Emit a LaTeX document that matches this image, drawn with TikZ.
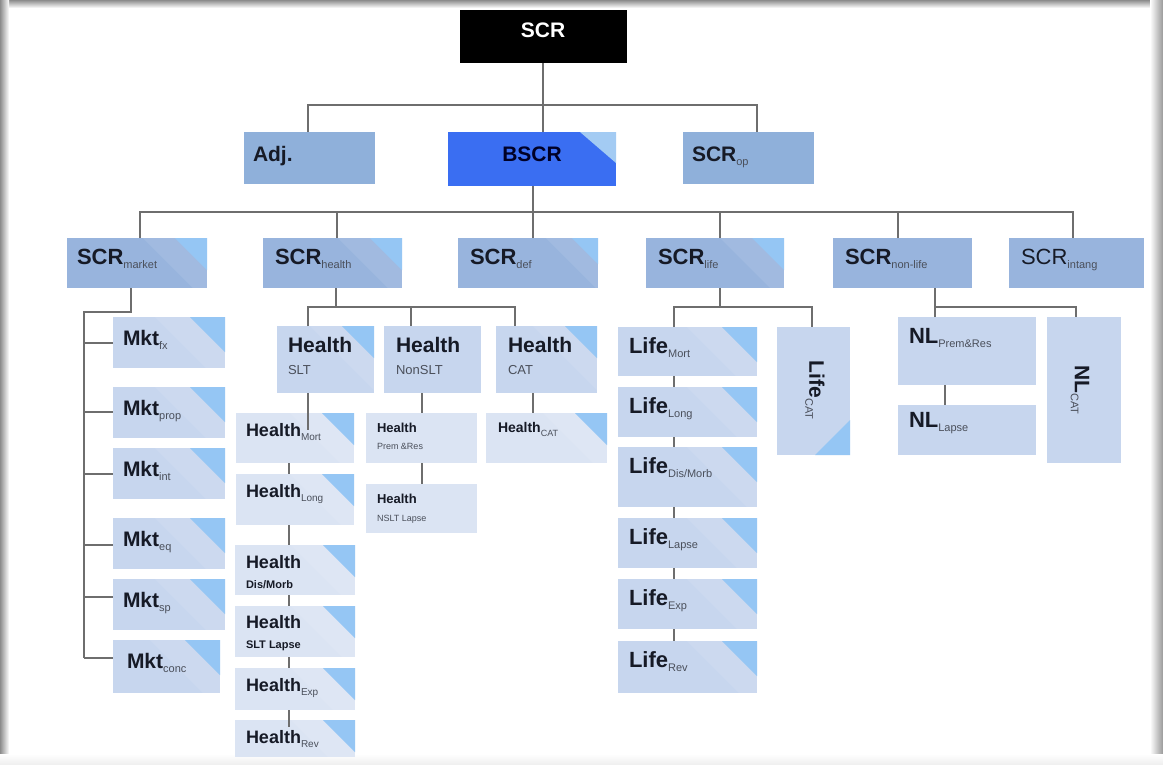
\documentclass[tikz,border=0pt]{standalone}
\usepackage{fontspec}
\setmainfont{Liberation Sans}
\usetikzlibrary{calc}
\definecolor{boxA}{HTML}{8FB0DA}
\definecolor{boxB}{HTML}{98B4DD}
\definecolor{boxC}{HTML}{C7D6EE}
\definecolor{boxD}{HTML}{DBE4F3}
\definecolor{tricol}{HTML}{95C6F4}
\definecolor{bscrcol}{HTML}{3A6EF2}
\definecolor{bscrtri}{HTML}{A3CBF3}
\definecolor{linec}{HTML}{6E6E6E}
\definecolor{txtc}{HTML}{161A26}
\definecolor{subc}{HTML}{4A4F5A}
\newcommand\fsz[1]{\fontsize{#1}{#1}\selectfont}
\newcommand\subl[2][11]{\raisebox{-4pt}{\fsz{#1}\mdseries\color{subc}#2}}
\newcommand\bx[6]{\node[#6, minimum width={(#4-#2)*1pt}, minimum height={(#5-#3)*1pt}] (#1) at (#2,#3) {};}
\tikzset{
  base/.style={draw=none, inner sep=0pt, outer sep=0pt, anchor=north west, rectangle},
  bA/.style={base, fill=boxA},
  bB/.style={base, fill=boxB},
  bC/.style={base, fill=boxC},
  bD/.style={base, fill=boxD},
  tri/.style={path picture={
      \fill[white, opacity=0.09] ([xshift={-2*#1pt}]path picture bounding box.north east) -- (path picture bounding box.north east) -- ([yshift={-2*#1pt}]path picture bounding box.north east) -- cycle;
      \fill[tricol] ([xshift={-#1pt}]path picture bounding box.north east) -- (path picture bounding box.north east) -- ([yshift={-#1pt}]path picture bounding box.north east) -- cycle;}},
  tribr/.style={path picture={
      \fill[tricol] ([xshift={-#1pt}]path picture bounding box.south east) -- (path picture bounding box.south east) -- ([yshift={#1pt}]path picture bounding box.south east) -- cycle;}},
  conn/.style={draw=linec, line width=1.3pt},
  t/.style={inner sep=0pt, outer sep=0pt, anchor=base west, text=txtc},
}
\begin{document}
\begin{tikzpicture}[x=1pt, y=-1pt]
\useasboundingbox (0,0) rectangle (1163,764);
\fill[white] (0,0) rectangle (1163,764);
\shade[top color=black!45, bottom color=white] (0,0) rectangle (1163,8);
\shade[left color=black!45, right color=white] (0,0) rectangle (9,764);
\shade[left color=white, right color=black!40] (1150,0) rectangle (1163,764);
\shade[top color=white, bottom color=black!6] (0,754) rectangle (1163,764);

% ---------- boxes ----------
\bx{scr}{460}{10}{627}{63}{base, fill=black}
\bx{adj}{244}{132}{375}{184}{bA}
\bx{bscr}{448}{132}{616}{186}{base, fill=bscrcol, path picture={\fill[bscrtri] ([xshift=-36pt]path picture bounding box.north east) -- (path picture bounding box.north east) -- ([yshift=-31pt]path picture bounding box.north east) -- cycle;}}
\bx{cp}{683}{132}{814}{184}{bA}

\bx{mkt}{67}{238}{207}{288}{bB, tri=32}
\bx{hea}{263}{238}{402}{288}{bB, tri=32}
\bx{def}{458}{238}{598}{288}{bB, tri=26}
\bx{life}{646}{238}{784}{288}{bB, tri=32}
\bx{nonl}{833}{238}{972}{288}{bB}
\bx{intang}{1009}{238}{1144}{288}{bB}

\bx{mfx}{113}{317}{225}{368}{bC, tri=35}
\bx{mprop}{113}{387}{225}{438}{bC, tri=35}
\bx{mint}{113}{448}{225}{499}{bC, tri=35}
\bx{meq}{113}{518}{225}{569}{bC, tri=35}
\bx{msp}{113}{579}{225}{630}{bC, tri=35}
\bx{mconc}{113}{640}{220}{693}{bC, tri=35}

\bx{hslt}{277}{326}{374}{393}{bC, tri=32}
\bx{hnslt}{384}{326}{481}{393}{bC}
\bx{hcat}{496}{326}{597}{393}{bC, tri=32}

\bx{hmort}{236}{413}{354}{463}{bD, tri=32}
\bx{hlong}{236}{474}{354}{525}{bD, tri=32}
\bx{hdis}{235}{545}{355}{595}{bD, tri=32}
\bx{hlapse}{235}{606}{355}{657}{bD, tri=32}
\bx{hexp}{235}{668}{355}{710}{bD, tri=32}
\bx{hrev}{235}{720}{355}{757}{bD, tri=32}
\bx{hprem}{366}{413}{477}{463}{bD}
\bx{hnlapse}{366}{484}{477}{533}{bD}
\bx{hcatsub}{486}{413}{607}{463}{bD, tri=32}

\bx{lmort}{618}{327}{757}{376}{bC, tri=35}
\bx{llong}{618}{387}{757}{437}{bC, tri=35}
\bx{ldis}{618}{447}{757}{507}{bC, tri=35}
\bx{llapse}{618}{518}{757}{568}{bC, tri=35}
\bx{lexp}{618}{579}{757}{629}{bC, tri=35}
\bx{lrev}{618}{641}{757}{693}{bC, tri=35}
\bx{lcat}{777}{327}{850}{455}{bC, tribr=35}

\bx{nlprem}{898}{317}{1036}{385}{bC}
\bx{nllapse}{898}{405}{1036}{455}{bC}
\bx{nlcat}{1047}{317}{1121}{463}{bC}

% ---------- connectors ----------
\coordinate (j1) at (543,105);
\coordinate (j2) at (533,212);
\draw[conn] (scr.south -| j1) -- (bscr.north -| j1);
\draw[conn] (adj.north -| 308,0) |- (j1) -| (cp.north -| 757,0);

\draw[conn] (bscr.south -| j2) -- (j2);
\draw[conn] (mkt.north -| 140,0) |- (j2) -| (intang.north -| 1073,0);
\draw[conn] (hea.north -| 337,0) -- (337,212);
\draw[conn] (def.north -| j2) -- (j2);
\draw[conn] (life.north -| 720,0) -- (720,212);
\draw[conn] (nonl.north -| 898,0) -- (898,212);

% market
\coordinate (mk) at (84,312);
\draw[conn] (mkt.south -| 131,0) |- (mk) -- (84,658);
\draw[conn] (84,343) -- (mfx.west |- 0,343);
\draw[conn] (84,412) -- (mprop.west |- 0,412);
\draw[conn] (84,474) -- (mint.west |- 0,474);
\draw[conn] (84,545) -- (meq.west |- 0,545);
\draw[conn] (84,597) -- (msp.west |- 0,597);
\draw[conn] (84,658) -- (mconc.west |- 0,658);

% health
\coordinate (hj) at (336,307);
\draw[conn] (hea.south -| hj) -- (hj);
\draw[conn] (hslt.north -| 308,0) |- (hj) -| (hcat.north -| 515,0);
\draw[conn] (hnslt.north -| 411,0) -- (411,307);
\draw[conn] (hcat.south -| 533,0) -- (hcatsub.north -| 533,0);
\draw[conn] (hnslt.south -| 422,0) -- (hprem.north -| 422,0);
\draw[conn] (hprem.south -| 422,0) -- (hnlapse.north -| 422,0);
\draw[conn] (hslt.south -| 308,0) -- (hmort.north -| 308,0) -- ++(0,17);
\draw[conn] (hmort.south -| 289,0) -- (hlong.north -| 289,0);
\draw[conn] (hlong.south -| 289,0) -- (hdis.north -| 289,0);
\draw[conn] (hdis.south -| 289,0) -- (hlapse.north -| 289,0);
\draw[conn] (hlapse.south -| 289,0) -- (hexp.north -| 289,0);
\draw[conn] (hexp.south -| 289,0) -- (hrev.north -| 289,0) -- ++(0,7);

% life
\coordinate (lj) at (720,307);
\draw[conn] (life.south -| lj) -- (lj);
\draw[conn] (lmort.north -| 674,0) |- (lj) -| (lcat.north -| 812,0);
\draw[conn] (lmort.south -| 674,0) -- (llong.north -| 674,0);
\draw[conn] (llong.south -| 674,0) -- (ldis.north -| 674,0);
\draw[conn] (ldis.south -| 674,0) -- (llapse.north -| 674,0);
\draw[conn] (llapse.south -| 674,0) -- (lexp.north -| 674,0);
\draw[conn] (lexp.south -| 674,0) -- (lrev.north -| 674,0);

% non-life
\coordinate (nj) at (935,307);
\draw[conn] (nonl.south -| nj) -- (nj);
\draw[conn] (nlprem.north -| nj) -- (nj) -| (nlcat.north -| 1076,0);
\draw[conn] (nlprem.south -| 945,0) -- (nllapse.north -| 945,0);

% ---------- texts ----------
\node[t, anchor=base, text=white] (scrt) at (543,37) {\fsz{21}\bfseries SCR};
\node[t] (adjt) at (253,161) {\fsz{21}\bfseries Adj.};
\node[t, anchor=base, text={black!85!blue}] (bscrt) at (532,161) {\fsz{21}\bfseries BSCR};
\node[t] (cpt) at (692,161) {\fsz{21}\bfseries SCR\subl{op}};

\node[t] (mktt) at (77,264) {\fsz{22}\bfseries SCR\subl{market}};
\node[t] (heat) at (275,264) {\fsz{22}\bfseries SCR\subl{health}};
\node[t] (deft) at (470,264) {\fsz{22}\bfseries SCR\subl{def}};
\node[t] (lifet) at (658,264) {\fsz{22}\bfseries SCR\subl{life}};
\node[t] (nonlt) at (845,264) {\fsz{22}\bfseries SCR\subl{non-life}};
\node[t] (intangt) at (1021,264) {\fsz{22}SCR\subl{intang}};

\node[t] (mfxt) at (123,345) {\fsz{21}\bfseries Mkt\subl{fx}};
\node[t] (mpropt) at (123,415) {\fsz{21}\bfseries Mkt\subl{prop}};
\node[t] (mintt) at (123,476) {\fsz{21}\bfseries Mkt\subl{int}};
\node[t] (meqt) at (123,546) {\fsz{21}\bfseries Mkt\subl{eq}};
\node[t] (mspt) at (123,607) {\fsz{21}\bfseries Mkt\subl{sp}};
\node[t] (mconct) at (127,668) {\fsz{21}\bfseries Mkt\subl{conc}};

\node[t] (hsltt) at (288,352) {\fsz{21}\bfseries Health};
\node[t, text=subc] (hsltt2) at (288,374) {\fsz{13}SLT};
\node[t] (hnsltt) at (396,352) {\fsz{21}\bfseries Health};
\node[t, text=subc] (hnsltt2) at (396,374) {\fsz{13}NonSLT};
\node[t] (hcatt) at (508,352) {\fsz{21}\bfseries Health};
\node[t, text=subc] (hcatt2) at (508,374) {\fsz{13}CAT};

\node[t] (hmortt) at (246,436) {\fsz{18}\bfseries Health\subl[10]{Mort}};
\node[t] (hlongt) at (246,497) {\fsz{18}\bfseries Health\subl[10]{Long}};
\node[t] (hdist) at (246,568) {\fsz{18}\bfseries Health};
\node[t] (hdist2) at (246,588) {\fsz{11}\bfseries Dis/Morb};
\node[t] (hlapset) at (246,628) {\fsz{18}\bfseries Health};
\node[t] (hlapset2) at (246,648) {\fsz{11}\bfseries SLT Lapse};
\node[t] (hexpt) at (246,691) {\fsz{18}\bfseries Health\subl[10]{Exp}};
\node[t] (hrevt) at (246,743) {\fsz{18}\bfseries Health\subl[10]{Rev}};
\node[t] (hpremt) at (377,432) {\fsz{13}\bfseries Health};
\node[t, text=subc] (hpremt2) at (377,449) {\fsz{9}Prem \&Res};
\node[t] (hnlapset) at (377,503) {\fsz{13}\bfseries Health};
\node[t, text=subc] (hnlapset2) at (377,521) {\fsz{9}NSLT Lapse};
\node[t] (hcatsubt) at (498,432) {\fsz{14}\bfseries Health\subl[9]{CAT}};

\node[t] (lmortt) at (629,353) {\fsz{22}\bfseries Life\subl{Mort}};
\node[t] (llongt) at (629,413) {\fsz{22}\bfseries Life\subl{Long}};
\node[t] (ldist) at (629,473) {\fsz{22}\bfseries Life\subl{Dis/Morb}};
\node[t] (llapset) at (629,544) {\fsz{22}\bfseries Life\subl{Lapse}};
\node[t] (lexpt) at (629,605) {\fsz{22}\bfseries Life\subl{Exp}};
\node[t] (lrevt) at (629,667) {\fsz{22}\bfseries Life\subl{Rev}};
\node[t, anchor=center, rotate=-90] (lcatt) at (815,390) {\fsz{21}\bfseries Life\subl{CAT}};

\node[t] (nlpremt) at (909,343) {\fsz{22}\bfseries NL\subl{Prem\&Res}};
\node[t] (nllapset) at (909,427) {\fsz{22}\bfseries NL\subl{Lapse}};
\node[t, anchor=center, rotate=-90] (nlcatt) at (1080,390) {\fsz{21}\bfseries NL\subl{CAT}};
\end{tikzpicture}
\end{document}
